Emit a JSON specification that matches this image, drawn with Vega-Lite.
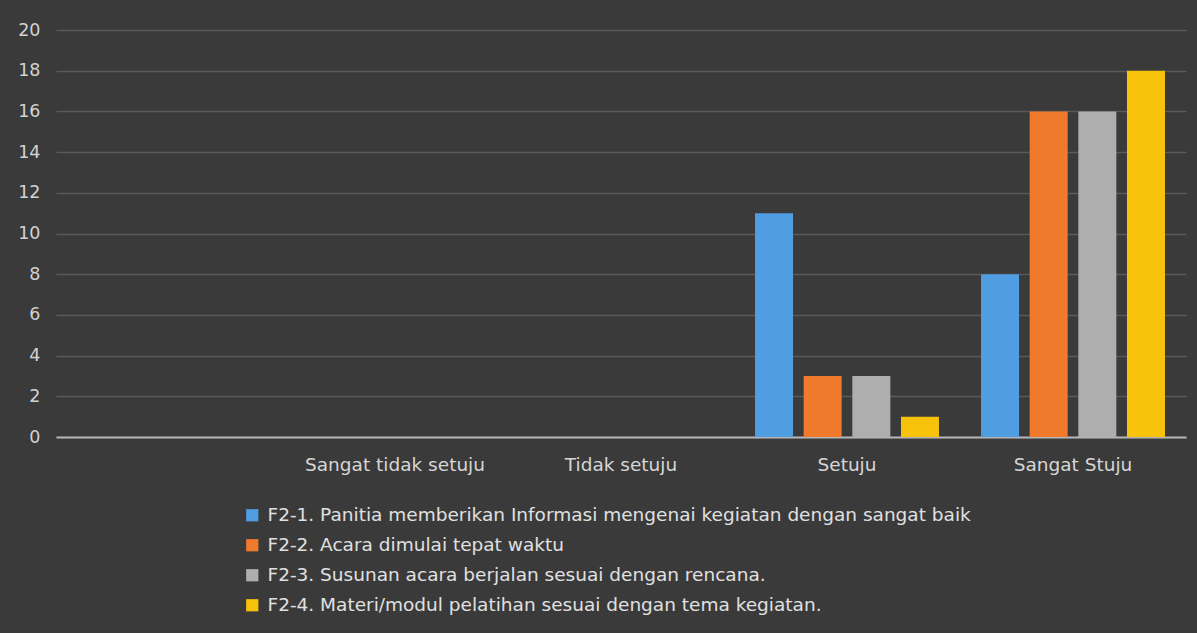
{
  "$schema": "https://vega.github.io/schema/vega-lite/v6.json",
  "width": 1130,
  "height": 407,
  "autosize": {"type": "none"},
  "padding": {"left": 56, "top": 30, "right": 11, "bottom": 196},
  "background": "#3a3a3a",
  "data": {
    "values": [
      {"kategori": "Setuju", "seri": "F2-1. Panitia memberikan Informasi mengenai kegiatan dengan sangat baik", "jumlah": 11},
      {"kategori": "Setuju", "seri": "F2-2. Acara dimulai tepat waktu", "jumlah": 3},
      {"kategori": "Setuju", "seri": "F2-3. Susunan acara berjalan sesuai dengan rencana.", "jumlah": 3},
      {"kategori": "Setuju", "seri": "F2-4. Materi/modul pelatihan sesuai dengan tema kegiatan.", "jumlah": 1},
      {"kategori": "Sangat Stuju", "seri": "F2-1. Panitia memberikan Informasi mengenai kegiatan dengan sangat baik", "jumlah": 8},
      {"kategori": "Sangat Stuju", "seri": "F2-2. Acara dimulai tepat waktu", "jumlah": 16},
      {"kategori": "Sangat Stuju", "seri": "F2-3. Susunan acara berjalan sesuai dengan rencana.", "jumlah": 16},
      {"kategori": "Sangat Stuju", "seri": "F2-4. Materi/modul pelatihan sesuai dengan tema kegiatan.", "jumlah": 18}
    ]
  },
  "mark": {"type": "bar"},
  "encoding": {
    "x": {
      "field": "kategori",
      "type": "nominal",
      "sort": null,
      "scale": {"domain": [" ", "Sangat tidak setuju", "Tidak setuju", "Setuju", "Sangat Stuju"], "paddingInner": 0.186, "paddingOuter": 0.093},
      "axis": {
        "title": null,
        "labelAngle": 0,
        "labelFontSize": 18.5,
        "labelFont": "DejaVu Sans",
        "labelColor": "#d6d6d6",
        "labelPadding": 18,
        "ticks": false,
        "domainColor": "#b5b5b5",
        "domainWidth": 2,
        "grid": false
      }
    },
    "xOffset": {
      "field": "seri",
      "type": "nominal",
      "scale": {"paddingInner": 0.219, "paddingOuter": 0}
    },
    "y": {
      "field": "jumlah",
      "type": "quantitative",
      "scale": {"domain": [0, 20]},
      "axis": {
        "title": null,
        "values": [0, 2, 4, 6, 8, 10, 12, 14, 16, 18, 20],
        "labelFontSize": 17.5,
        "labelFont": "DejaVu Sans",
        "labelColor": "#d2d2d2",
        "labelPadding": 16,
        "ticks": false,
        "domain": false,
        "gridColor": "#5a5a5a",
        "gridWidth": 1.5
      }
    },
    "color": {
      "field": "seri",
      "type": "nominal",
      "scale": {
        "domain": [
          "F2-1. Panitia memberikan Informasi mengenai kegiatan dengan sangat baik",
          "F2-2. Acara dimulai tepat waktu",
          "F2-3. Susunan acara berjalan sesuai dengan rencana.",
          "F2-4. Materi/modul pelatihan sesuai dengan tema kegiatan."
        ],
        "range": ["#519de2", "#ef7a2c", "#aeaeae", "#f7c20a"]
      },
      "legend": {
        "title": null,
        "orient": "none",
        "legendX": 187,
        "legendY": 476,
        "direction": "vertical",
        "symbolType": "square",
        "symbolSize": 150,
        "symbolStrokeWidth": 0,
        "labelFontSize": 18.5,
        "labelFont": "DejaVu Sans",
        "labelColor": "#e0e0e0",
        "labelLimit": 950,
        "labelOffset": 6,
        "rowPadding": 11
      }
    }
  },
  "config": {
    "view": {"stroke": null}
  }
}
